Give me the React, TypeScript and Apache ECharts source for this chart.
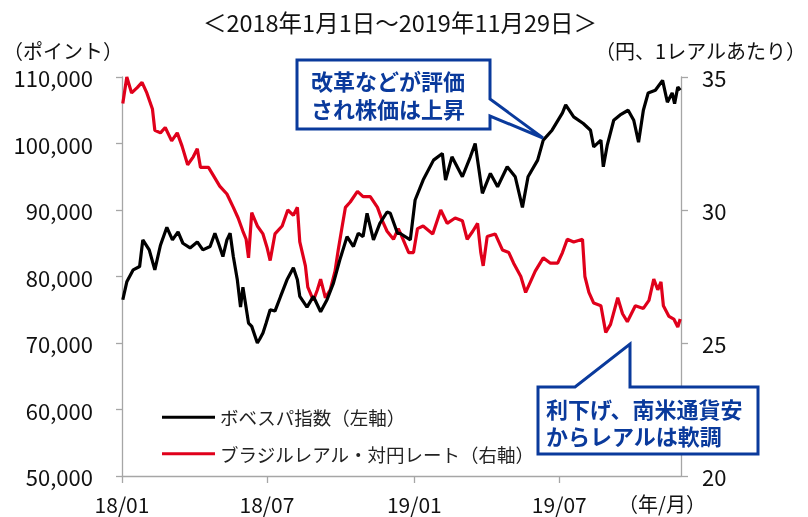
import React, { useEffect, useRef } from "react";
import * as echarts from "echarts";

const FONT = "'Noto Sans CJK JP', 'Noto Sans', sans-serif";

const titleText = "＜2018年1月1日～2019年11月29日＞";
const leftAxisName = "（ポイント）";
const rightAxisName = "（円、1レアルあたり）";
const xUnitLabel = "（年/月）";
const seriesNames = ["ボベスパ指数（左軸）", "ブラジルレアル・対円レート（右軸）"];
const callout1 = ["改革などが評価", "され株価は上昇"];
const callout2 = ["利下げ、南米通貨安", "からレアルは軟調"];

const startDate = "2018-01-01";
const endDate = "2019-11-30";
const xTickDates = ["2018-01-01", "2018-07-01", "2019-01-01", "2019-07-01"];
const xTickLabels = ["18/01", "18/07", "19/01", "19/07"];

const bovespaDates = [
  "2018-01-02", "2018-01-07", "2018-01-15", "2018-01-23", "2018-01-27", "2018-02-04", "2018-02-11", "2018-02-18",
  "2018-02-26", "2018-03-05", "2018-03-12", "2018-03-18", "2018-03-27", "2018-04-05", "2018-04-12", "2018-04-21",
  "2018-04-27", "2018-05-02", "2018-05-07", "2018-05-12", "2018-05-16", "2018-05-20", "2018-05-25", "2018-05-29",
  "2018-06-01", "2018-06-08", "2018-06-12", "2018-06-19", "2018-06-22", "2018-06-26", "2018-06-30", "2018-07-05",
  "2018-07-11", "2018-07-18", "2018-07-26", "2018-08-03", "2018-08-08", "2018-08-11", "2018-08-20", "2018-08-28",
  "2018-09-06", "2018-09-14", "2018-09-22", "2018-09-30", "2018-10-09", "2018-10-17", "2018-10-23", "2018-10-29",
  "2018-11-03", "2018-11-11", "2018-11-19", "2018-11-28", "2018-12-02", "2018-12-11", "2018-12-14", "2018-12-27",
  "2019-01-02", "2019-01-12", "2019-01-25", "2019-02-05", "2019-02-09", "2019-02-17", "2019-03-02", "2019-03-12",
  "2019-03-18", "2019-03-27", "2019-04-06", "2019-04-15", "2019-04-27", "2019-05-07", "2019-05-16", "2019-05-23",
  "2019-06-04", "2019-06-11", "2019-06-22", "2019-07-05", "2019-07-09", "2019-07-19", "2019-07-31", "2019-08-09",
  "2019-08-13", "2019-08-22", "2019-08-25", "2019-08-30", "2019-09-07", "2019-09-15", "2019-09-25", "2019-10-02",
  "2019-10-08", "2019-10-14", "2019-10-20", "2019-10-29", "2019-11-07", "2019-11-13", "2019-11-19", "2019-11-22",
  "2019-11-26", "2019-11-29",
];
const bovespaValues = [
  76500, 79200, 81000, 81500, 85500, 84000, 81000, 84700,
  87400, 85500, 86700, 85000, 84300, 85200, 84000, 84500,
  86500, 84800, 83000, 85500, 86500, 83000, 79500, 75400,
  78400, 73000, 72500, 70000, 70600, 71500, 73000, 75000,
  74800, 77000, 79500, 81300, 79500, 77000, 75400, 77000,
  74700, 76500, 79000, 82500, 86000, 84500, 86500, 86000,
  89500, 85500, 88000, 89700, 89500, 86500, 86500, 85500,
  91500, 94500, 97500, 98500, 94500, 98000, 95000, 98000,
  100000, 92500, 95500, 93500, 96500, 95000, 90400, 95000,
  97500, 100500, 102000, 104600, 105800, 104000, 103000, 102000,
  99500, 100500, 96500, 99800, 103500, 104300, 105000, 103500,
  100200, 105000, 107600, 108000, 109500, 106200, 107600, 106000,
  108500, 108000,
];

const realDates = [
  "2018-01-02", "2018-01-07", "2018-01-13", "2018-01-20", "2018-01-26", "2018-02-01", "2018-02-08", "2018-02-11",
  "2018-02-18", "2018-02-24", "2018-03-04", "2018-03-11", "2018-03-17", "2018-03-24", "2018-03-31", "2018-04-05",
  "2018-04-09", "2018-04-19", "2018-04-25", "2018-05-03", "2018-05-12", "2018-05-20", "2018-05-26", "2018-06-01",
  "2018-06-05", "2018-06-08", "2018-06-12", "2018-06-19", "2018-06-26", "2018-07-01", "2018-07-05", "2018-07-11",
  "2018-07-20", "2018-07-27", "2018-08-03", "2018-08-08", "2018-08-11", "2018-08-18", "2018-08-21", "2018-08-28",
  "2018-09-02", "2018-09-06", "2018-09-12", "2018-09-18", "2018-09-24", "2018-09-28", "2018-10-03", "2018-10-07",
  "2018-10-13", "2018-10-22", "2018-10-29", "2018-11-07", "2018-11-16", "2018-11-22", "2018-11-28", "2018-12-06",
  "2018-12-12", "2018-12-15", "2018-12-25", "2018-12-31", "2019-01-05", "2019-01-12", "2019-01-24", "2019-02-03",
  "2019-02-11", "2019-02-21", "2019-03-02", "2019-03-08", "2019-03-15", "2019-03-21", "2019-03-25", "2019-03-28",
  "2019-04-02", "2019-04-12", "2019-04-21", "2019-04-29", "2019-05-05", "2019-05-14", "2019-05-20", "2019-05-26",
  "2019-06-01", "2019-06-11", "2019-06-20", "2019-06-29", "2019-07-05", "2019-07-11", "2019-07-19", "2019-07-30",
  "2019-08-02", "2019-08-07", "2019-08-13", "2019-08-22", "2019-08-28", "2019-09-03", "2019-09-12", "2019-09-18",
  "2019-09-24", "2019-10-04", "2019-10-14", "2019-10-21", "2019-10-27", "2019-11-01", "2019-11-05", "2019-11-08",
  "2019-11-15", "2019-11-21", "2019-11-26", "2019-11-29",
];
const realValues = [
  34.0, 35.0, 34.4, 34.6, 34.8, 34.4, 33.8, 33.0,
  32.9, 33.1, 32.6, 32.9, 32.4, 31.7, 32.0, 32.3,
  31.6, 31.6, 31.3, 30.9, 30.6, 30.1, 29.7, 29.2,
  28.9, 28.2, 29.9, 29.4, 29.1, 28.6, 28.1, 29.1,
  29.4, 30.0, 29.8, 30.1, 28.8, 27.9, 27.1, 26.6,
  27.0, 27.4, 26.7, 27.0, 27.7, 28.5, 29.4, 30.1,
  30.3, 30.7, 30.5, 30.5, 30.1, 29.6, 29.2, 28.9,
  29.3, 29.1, 28.4, 28.4, 29.3, 29.4, 29.1, 30.0,
  29.5, 29.7, 29.6, 28.9, 29.2, 29.5, 28.4, 27.9,
  29.0, 29.1, 28.5, 28.4, 28.0, 27.5, 26.9, 27.3,
  27.7, 28.2, 28.0, 28.0, 28.4, 28.9, 28.8, 28.9,
  27.5, 26.9, 26.5, 26.4, 25.4, 25.7, 26.7, 26.1,
  25.8, 26.4, 26.3, 26.6, 27.4, 27.0, 27.3, 26.4,
  26.0, 25.9, 25.6, 25.9,
];

const dayOf = (s: string) => Math.round((Date.parse(s) - Date.parse(startDate)) / 86400000);

const BLUE = "#0a3a9c";
const RED = "#e0001b";
const AXIS = "#a6a6a6";

export default function App() {
  const ref = useRef<HTMLDivElement>(null);
  useEffect(() => {
    if (!ref.current) return;
    const chart = echarts.init(ref.current, undefined, { renderer: "svg" });
    const tickDays = xTickDates.map(dayOf);
    const labelMap: Record<number, string> = {};
    tickDays.forEach((d, i) => (labelMap[d] = xTickLabels[i]));

    const calloutText = (x: number, y: number, t: string) => ({
      type: "text",
      x,
      y,
      z: 101,
      style: { text: t, fill: BLUE, font: `bold 22px ${FONT}`, textVerticalAlign: "middle" },
    });

    chart.setOption({
      animation: false,
      textStyle: { fontFamily: FONT },
      grid: { left: 122, right: 127, top: 77, bottom: 41 },
      legend: {
        orient: "vertical",
        left: 162,
        top: 408,
        padding: 0,
        icon: "rect",
        itemWidth: 53,
        itemHeight: 3,
        itemGap: 18,
        textStyle: { fontSize: 18.5, color: "#222", fontFamily: FONT },
        data: seriesNames,
      },
      xAxis: {
        type: "value",
        min: 0,
        max: dayOf(endDate),
        splitLine: { show: false },
        axisLine: { lineStyle: { color: AXIS, width: 1.3 } },
        axisTick: { show: true, length: 7, customValues: tickDays, lineStyle: { color: AXIS, width: 1.3 } },
        axisLabel: {
          customValues: tickDays,
          formatter: (v: number) => labelMap[v] ?? "",
          fontSize: 21,
          color: "#111",
          margin: 17,
          fontFamily: FONT,
        },
      },
      yAxis: [
        {
          type: "value",
          min: 50000,
          max: 110000,
          interval: 10000,
          splitLine: { show: false },
          axisLine: { show: true, lineStyle: { color: AXIS, width: 1.3 } },
          axisTick: { show: true, length: 6, lineStyle: { color: AXIS, width: 1.3 } },
          axisLabel: {
            fontSize: 22,
            color: "#111",
            margin: 29,
            fontFamily: FONT,
            formatter: (v: number) => v.toLocaleString("en-US"),
          },
        },
        {
          type: "value",
          min: 20,
          max: 35,
          interval: 5,
          position: "right",
          splitLine: { show: false },
          axisLine: { show: true, lineStyle: { color: AXIS, width: 1.3 } },
          axisTick: { show: true, length: 7, lineStyle: { color: AXIS, width: 1.3 } },
          axisLabel: { fontSize: 22, color: "#111", margin: 21, fontFamily: FONT },
        },
      ],
      series: [
        {
          name: seriesNames[0],
          type: "line",
          yAxisIndex: 0,
          symbol: "none",
          lineStyle: { color: "#000", width: 3.2 },
          itemStyle: { color: "#000" },
          data: bovespaDates.map((d, i) => [dayOf(d), bovespaValues[i]]),
          z: 3,
        },
        {
          name: seriesNames[1],
          type: "line",
          yAxisIndex: 1,
          symbol: "none",
          lineStyle: { color: RED, width: 3.2 },
          itemStyle: { color: RED },
          data: realDates.map((d, i) => [dayOf(d), realValues[i]]),
          z: 2,
        },
      ],
      graphic: [
        {
          type: "text",
          x: 400,
          y: 22,
          style: { text: titleText, fill: "#111", font: `23.5px ${FONT}`, textAlign: "center", textVerticalAlign: "middle" },
        },
        {
          type: "text",
          x: 3,
          y: 50,
          style: { text: leftAxisName, fill: "#111", font: `20px ${FONT}`, textVerticalAlign: "middle" },
        },
        {
          type: "text",
          x: 806,
          y: 50,
          style: { text: rightAxisName, fill: "#111", font: `20px ${FONT}`, textAlign: "right", textVerticalAlign: "middle" },
        },
        {
          type: "text",
          x: 662,
          y: 503,
          style: { text: xUnitLabel, fill: "#111", font: `20px ${FONT}`, textAlign: "center", textVerticalAlign: "middle" },
        },
        {
          type: "polygon",
          z: 100,
          shape: {
            points: [
              [297, 60], [490, 60], [490, 99], [543, 138], [490, 116], [490, 129], [297, 129],
            ],
          },
          style: { fill: "#fff", stroke: BLUE, lineWidth: 3 },
        },
        calloutText(311, 80, callout1[0]),
        calloutText(311, 108, callout1[1]),
        {
          type: "polygon",
          z: 100,
          shape: {
            points: [
              [538, 387], [575, 387], [630, 344], [630, 387], [758, 387], [758, 454], [538, 454],
            ],
          },
          style: { fill: "#fff", stroke: BLUE, lineWidth: 3 },
        },
        calloutText(546, 408, callout2[0]),
        calloutText(546, 435, callout2[1]),
      ],
    });
    return () => chart.dispose();
  }, []);
  return <div ref={ref} style={{ position: "fixed", left: 0, top: 0, width: 808, height: 517 }} />;
}
